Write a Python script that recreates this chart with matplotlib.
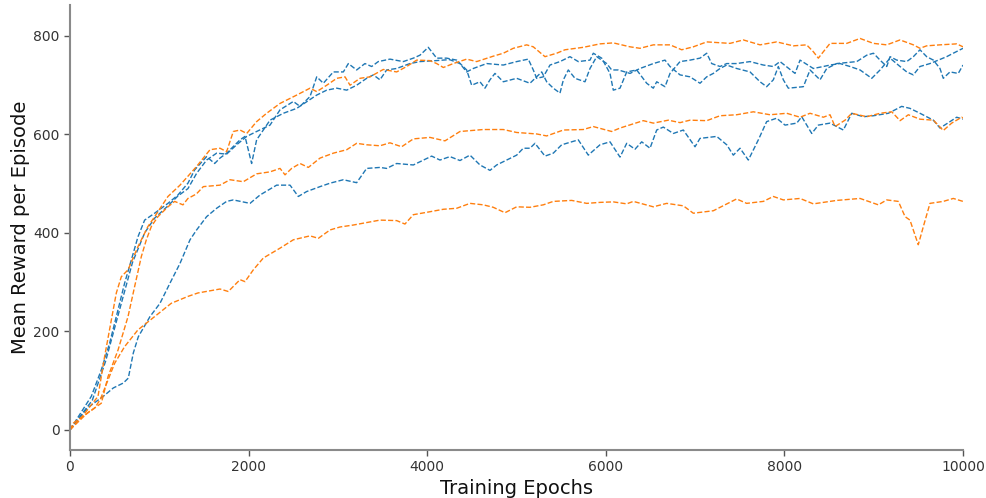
import matplotlib
matplotlib.use("Agg")
import matplotlib.pyplot as plt

# ---- data (epoch, mean reward) ----
b1_x = [0, 239, 351, 444, 538, 612, 687, 761, 836, 948, 1097, 1209, 1321, 1396, 1530, 1620, 1680, 1754,
        1904, 1960, 2034, 2090, 2165, 2240, 2389, 2539, 2763, 2875, 2987, 3099, 3210, 3322, 3397, 3471,
        3546, 3658, 3807, 3919, 4100, 4250, 4367, 4442, 4516, 4666, 4852, 5002, 5132, 5188, 5226, 5300,
        5375, 5487, 5599, 5692, 5823, 5860, 5954, 6047, 6084, 6159, 6234, 6346, 6458, 6532, 6570, 6663,
        6719, 6831, 6943, 7055, 7130, 7186, 7279, 7354, 7465, 7615, 7764, 7876, 7951, 8119, 8175, 8324,
        8436, 8511, 8623, 8735, 8847, 8978, 9071, 9183, 9295, 9370, 9444, 9518, 9630, 9817, 9891, 10000]
b1_y = [0, 68, 122, 176, 244, 298, 345, 392, 426, 440, 460, 477, 501, 528, 555, 541, 552, 562,
        589, 596, 541, 589, 609, 629, 643, 653, 680, 690, 694, 690, 700, 714, 721, 711,
        731, 734, 744, 748, 750, 752, 744, 727, 734, 744, 741, 748, 753, 731, 714, 717,
        741, 748, 758, 748, 751, 765, 755, 724, 690, 694, 727, 731, 704, 694, 707, 697,
        724, 748, 751, 755, 765, 744, 738, 744, 744, 748, 741, 738, 748, 724, 751, 734,
        738, 741, 744, 738, 731, 714, 731, 755, 738, 727, 721, 738, 744, 758, 765, 775]

b2_x = [0, 250, 400, 575, 700, 836, 948, 1097, 1209, 1321, 1418, 1530, 1642, 1754, 1866, 1979, 2090,
        2240, 2352, 2501, 2576, 2688, 2763, 2837, 2949, 3061, 3117, 3210, 3303, 3378, 3452, 3583, 3732,
        3845, 3919, 4012, 4106, 4218, 4330, 4442, 4498, 4591, 4647, 4703, 4759, 4852, 5002, 5151, 5282,
        5338, 5412, 5487, 5525, 5580, 5655, 5767, 5823, 5898, 6010, 6066, 6140, 6271, 6383, 6532, 6663,
        6719, 6831, 6943, 7055, 7130, 7204, 7279, 7354, 7465, 7615, 7727, 7801, 7876, 7932, 7988, 8044,
        8212, 8287, 8399, 8474, 8586, 8810, 8922, 8997, 9071, 9146, 9183, 9258, 9370, 9444, 9518, 9593,
        9668, 9742, 9779, 9854, 9947, 10000]
b2_y = [0, 60, 140, 257, 340, 400, 430, 455, 475, 490, 521, 548, 562, 560, 579, 596, 606,
        619, 650, 667, 657, 677, 717, 704, 727, 727, 744, 731, 744, 738, 748, 753, 748,
        755, 761, 777, 755, 755, 751, 731, 700, 707, 694, 711, 724, 707, 714, 704, 727,
        707, 694, 684, 711, 731, 714, 707, 734, 758, 744, 731, 731, 724, 734, 744, 751,
        738, 721, 717, 704, 717, 724, 734, 741, 734, 727, 707, 697, 711, 738, 711, 694,
        697, 731, 711, 734, 744, 748, 761, 765, 751, 738, 758, 751, 748, 758, 772, 758,
        751, 734, 714, 727, 724, 741]

b3_x = [0, 200, 373, 485, 597, 653, 709, 765, 896, 1008, 1120, 1232, 1344, 1418, 1530, 1642, 1754,
        1829, 2016, 2128, 2314, 2464, 2557, 2650, 2800, 2912, 3061, 3210, 3322, 3471, 3546, 3658, 3845,
        4050, 4143, 4255, 4367, 4479, 4591, 4703, 4778, 4890, 5002, 5076, 5151, 5207, 5319, 5412, 5506,
        5692, 5804, 5935, 6047, 6159, 6234, 6327, 6402, 6495, 6570, 6644, 6756, 6868, 6999, 7055, 7242,
        7354, 7428, 7503, 7596, 7708, 7801, 7913, 8007, 8138, 8194, 8306, 8380, 8511, 8660, 8754, 8884,
        8997, 9164, 9313, 9406, 9518, 9668, 9742, 9854, 9929, 10000]
b3_y = [0, 45, 68, 85, 95, 105, 156, 189, 230, 257, 298, 338, 386, 406, 433, 450, 464,
        467, 460, 477, 497, 497, 474, 484, 494, 501, 508, 502, 531, 533, 531, 541, 538,
        556, 548, 555, 547, 558, 538, 527, 538, 548, 558, 572, 572, 582, 556, 562, 579,
        589, 558, 579, 585, 554, 582, 570, 585, 572, 609, 615, 602, 609, 575, 592, 596,
        579, 558, 572, 548, 589, 626, 633, 619, 623, 636, 602, 619, 623, 609, 643, 636,
        638, 643, 657, 653, 643, 629, 613, 626, 635, 631]

o1_x = [0, 150, 314, 388, 463, 519, 575, 650, 761, 873, 948, 1097, 1232, 1418, 1568, 1680, 1754,
        1829, 1904, 1979, 2090, 2202, 2352, 2539, 2688, 2763, 2875, 2987, 3080, 3136, 3247, 3359, 3508,
        3658, 3770, 3882, 4031, 4106, 4181, 4292, 4442, 4554, 4740, 4852, 4964, 5114, 5188, 5319, 5450,
        5543, 5748, 5935, 6084, 6271, 6383, 6532, 6719, 6850, 6980, 7130, 7391, 7540, 7727, 7913, 8100,
        8249, 8324, 8380, 8436, 8511, 8698, 8847, 8997, 9146, 9295, 9444, 9518, 9593, 9742, 9929, 10000]
o1_y = [0, 30, 68, 149, 223, 278, 311, 325, 372, 413, 433, 474, 497, 535, 569, 572, 565,
        606, 609, 602, 626, 643, 663, 680, 694, 687, 700, 714, 717, 700, 714, 717, 732,
        727, 738, 751, 750, 744, 736, 744, 753, 748, 759, 765, 775, 782, 778, 758, 765,
        772, 777, 784, 786, 778, 775, 782, 782, 772, 778, 788, 785, 792, 782, 788, 780,
        782, 768, 755, 768, 785, 785, 795, 785, 782, 792, 782, 775, 780, 782, 784, 778]

o2_x = [0, 200, 351, 426, 538, 650, 724, 799, 855, 911, 985, 1097, 1172, 1265, 1321, 1415, 1493,
        1680, 1792, 1941, 2090, 2240, 2352, 2408, 2482, 2576, 2669, 2800, 2949, 3099, 3210, 3322, 3471,
        3583, 3714, 3845, 4031, 4199, 4367, 4628, 4852, 5002, 5226, 5338, 5525, 5748, 5860, 6066, 6159,
        6420, 6532, 6700, 6831, 6943, 7130, 7279, 7465, 7652, 7839, 8026, 8175, 8287, 8436, 8511, 8567,
        8679, 8754, 8922, 9071, 9202, 9295, 9388, 9518, 9668, 9779, 9873, 9985, 10000]
o2_y = [0, 35, 54, 108, 162, 230, 291, 352, 386, 413, 433, 453, 464, 457, 470, 479, 494,
        497, 508, 504, 520, 524, 531, 518, 531, 541, 533, 552, 562, 569, 582, 579, 577,
        583, 575, 591, 594, 587, 606, 610, 610, 604, 601, 597, 609, 610, 616, 606, 613,
        628, 623, 629, 624, 629, 628, 638, 640, 646, 640, 643, 635, 643, 635, 640, 616,
        629, 643, 636, 643, 646, 628, 640, 631, 629, 608, 623, 635, 633]

o3_x = [0, 40, 276, 340, 500, 612, 761, 948, 1134, 1321, 1433, 1680, 1773, 1904, 1960, 2053, 2165,
        2352, 2501, 2688, 2781, 2912, 3024, 3173, 3322, 3471, 3658, 3751, 3845, 4031, 4181, 4330, 4479,
        4628, 4740, 4871, 5002, 5151, 5300, 5412, 5618, 5786, 5935, 6084, 6234, 6308, 6532, 6682, 6868,
        6980, 7204, 7465, 7577, 7764, 7876, 7988, 8175, 8324, 8511, 8586, 8847, 9052, 9146, 9276, 9351,
        9406, 9499, 9556, 9630, 9779, 9891, 10000]
o3_y = [0, 14, 44, 62, 135, 169, 203, 230, 257, 271, 278, 286, 281, 305, 301, 325, 349,
        369, 386, 394, 389, 406, 412, 416, 421, 426, 425, 418, 437, 443, 448, 450, 460,
        457, 452, 441, 453, 452, 457, 464, 466, 460, 462, 463, 459, 464, 453, 460, 455,
        440, 445, 469, 460, 464, 474, 467, 470, 459, 464, 466, 470, 457, 467, 464, 433,
        426, 376, 413, 460, 464, 470, 464]

blue = "#1f77b4"
orange = "#ff7f0e"

fig = plt.figure(figsize=(9.87, 4.98), dpi=100)
ax = fig.add_axes([0.0709, 0.0964, 0.9048, 0.8936])

for xs, ys in [(b1_x, b1_y), (b2_x, b2_y), (b3_x, b3_y)]:
    ax.plot(xs, ys, color=blue, linestyle="--", linewidth=1.0)
for xs, ys in [(o1_x, o1_y), (o2_x, o2_y), (o3_x, o3_y)]:
    ax.plot(xs, ys, color=orange, linestyle="--", linewidth=1.0)

ax.set_xlim(0, 10000)
ax.set_ylim(-41, 863)
ax.set_xticks([0, 2000, 4000, 6000, 8000, 10000])
ax.set_yticks([0, 200, 400, 600, 800])

for s in ["top", "right"]:
    ax.spines[s].set_visible(False)
for s in ["left", "bottom"]:
    ax.spines[s].set_color("#8a8a8a")
    ax.spines[s].set_linewidth(1.5)
ax.tick_params(axis="both", colors="#555555", labelsize=10, length=4, width=1, direction="out")
ax.tick_params(axis="both", labelcolor="#333333")

ax.set_xlabel("Training Epochs", fontsize=14, color="#111111", labelpad=3)
ax.set_ylabel("Mean Reward per Episode", fontsize=14, color="#111111", labelpad=2)

fig.savefig("out.png", dpi=100)
